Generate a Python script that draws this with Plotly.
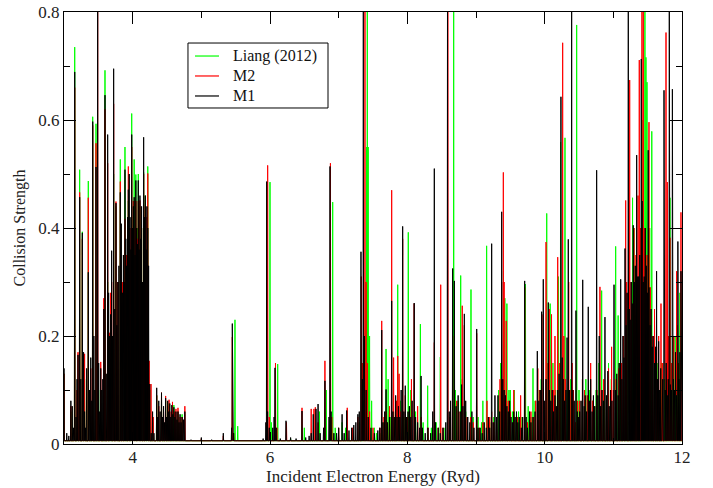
import plotly.graph_objects as go

# ---------------- data: resonance peaks (energy in Ryd, collision strength) -------------
m1_peaks_a = [(3.00,0.14),(3.04,0.02),(3.07,0.015),(3.10,0.08),(3.12,0.07),(3.14,0.03),(3.156,0.689),(3.175,0.05),(3.19,0.12),(3.204,0.165),(3.228,0.457),(3.245,0.12),(3.267,0.391),(3.285,0.17),(3.30,0.06),(3.315,0.03),(3.33,0.14),(3.354,0.318),(3.37,0.10),(3.39,0.16),(3.405,0.08),(3.418,0.597),(3.435,0.20),(3.45,0.10),(3.466,0.513),(3.49,0.82),(3.505,0.15),(3.52,0.06),(3.535,0.14),(3.55,0.10),(3.565,0.12),(3.58,0.25),(3.597,0.646),(3.615,0.13),(3.636,0.573),(3.65,0.28),(3.665,0.20),(3.68,0.24),(3.694,0.358),(3.708,0.20),(3.723,0.695),(3.74,0.25),(3.757,0.446),(3.77,0.22),(3.785,0.30),(3.80,0.33),(3.82,0.466),(3.835,0.408),(3.85,0.28),(3.865,0.35),(3.877,0.30),(3.888,0.508),(3.90,0.38),(3.912,0.33),(3.925,0.42),(3.937,0.471),(3.95,0.50),(3.962,0.42),(3.974,0.36),(3.986,0.573),(3.998,0.40),(4.01,0.44),(4.022,0.457),(4.034,0.35),(4.046,0.488),(4.058,0.40),(4.07,0.37),(4.082,0.488),(4.094,0.36),(4.106,0.46),(4.118,0.38),(4.13,0.44),(4.142,0.30),(4.16,0.568),(4.172,0.42),(4.184,0.46),(4.196,0.36),(4.208,0.44),(4.22,0.40),(4.232,0.33),(4.248,0.111),(4.27,0.02),(4.29,0.06),(4.31,0.02),(4.35,0.104),(4.365,0.05),(4.38,0.08),(4.40,0.06),(4.42,0.095),(4.435,0.05),(4.45,0.07),(4.465,0.04),(4.48,0.085),(4.495,0.05),(4.51,0.08),(4.525,0.06),(4.54,0.075),(4.555,0.05),(4.57,0.072),(4.585,0.055),(4.60,0.068),(4.615,0.05),(4.63,0.06),(4.645,0.045),(4.66,0.06),(4.675,0.04),(4.69,0.055),(4.705,0.04),(4.72,0.05),(4.74,0.045),(4.76,0.06)]
m1_peaks_b = [(4.85,0.008),(5.00,0.012),(5.15,0.008),(5.32,0.02),(5.44,0.03),(5.451,0.223),(5.47,0.02),(5.90,0.01),(5.94,0.04),(5.952,0.486),(5.965,0.06),(5.99,0.03),(6.04,0.03),(6.06,0.05),(6.073,0.141),(6.09,0.03),(6.15,0.01),(6.233,0.043),(6.30,0.012),(6.38,0.01),(6.466,0.061),(6.52,0.012),(6.57,0.015),(6.60,0.02),(6.63,0.055),(6.67,0.065),(6.70,0.074),(6.73,0.02),(6.78,0.03),(6.80,0.117),(6.86,0.05),(6.874,0.514),(6.89,0.06),(6.93,0.02),(6.97,0.02),(7.00,0.03),(7.05,0.055),(7.08,0.02),(7.117,0.062),(7.15,0.025),(7.19,0.03),(7.22,0.035),(7.25,0.04),(7.28,0.055),(7.30,0.06),(7.325,0.356),(7.345,0.12),(7.359,0.82),(7.375,0.2),(7.40,0.10),(7.43,0.05),(7.47,0.03),(7.52,0.02),(7.57,0.025)]
m1_peaks_c = [(7.60,0.03),(7.627,0.211),(7.645,0.04),(7.67,0.06),(7.69,0.101),(7.71,0.04),(7.74,0.05),(7.772,0.265),(7.79,0.06),(7.81,0.05),(7.83,0.09),(7.85,0.05),(7.87,0.07),(7.89,0.05),(7.91,0.10),(7.932,0.403),(7.95,0.06),(7.97,0.108),(7.99,0.05),(8.01,0.06),(8.03,0.07),(8.05,0.05),(8.07,0.08),(8.10,0.261),(8.12,0.05),(8.15,0.04),(8.18,0.03),(8.20,0.126),(8.22,0.03),(8.26,0.02),(8.30,0.03),(8.34,0.02),(8.37,0.06),(8.393,0.51),(8.41,0.04),(8.45,0.03),(8.48,0.02),(8.52,0.03),(8.56,0.04),(8.585,0.83),(8.61,0.06),(8.63,0.08),(8.66,0.325),(8.685,0.302),(8.71,0.07),(8.74,0.09),(8.77,0.06),(8.79,0.11),(8.81,0.07),(8.83,0.241),(8.85,0.08),(8.88,0.05),(8.91,0.04),(8.94,0.06),(8.97,0.03),(9.01,0.213),(9.03,0.03)]
m1_peaks_d = [(9.06,0.03),(9.09,0.02),(9.12,0.04),(9.15,0.03),(9.18,0.05),(9.20,0.03),(9.228,0.371),(9.25,0.04),(9.276,0.09),(9.30,0.05),(9.32,0.09),(9.345,0.06),(9.374,0.43),(9.39,0.12),(9.41,0.10),(9.43,0.09),(9.45,0.07),(9.47,0.06),(9.49,0.08),(9.51,0.05),(9.53,0.04),(9.55,0.06),(9.57,0.05),(9.59,0.06),(9.61,0.04),(9.63,0.05),(9.66,0.03),(9.68,0.05),(9.709,0.302),(9.73,0.05),(9.75,0.03),(9.78,0.06),(9.80,0.04),(9.83,0.05),(9.86,0.06),(9.893,0.172),(9.915,0.08),(9.935,0.10),(9.956,0.245),(9.98,0.305),(10.00,0.08),(10.02,0.12),(10.053,0.262),(10.07,0.10),(10.09,0.08),(10.11,0.10),(10.13,0.06),(10.15,0.09),(10.17,0.07),(10.19,0.10),(10.21,0.13),(10.237,0.643),(10.255,0.16),(10.27,0.12),(10.29,0.08),(10.31,0.10),(10.326,0.197),(10.344,0.379),(10.36,0.10),(10.393,0.83),(10.41,0.10),(10.43,0.08),(10.456,0.247),(10.475,0.06),(10.49,0.05)]
m1_peaks_e = [(10.51,0.06),(10.53,0.08),(10.554,0.304),(10.575,0.07),(10.59,0.09),(10.61,0.06),(10.635,0.254),(10.655,0.08),(10.67,0.12),(10.69,0.06),(10.71,0.09),(10.73,0.07),(10.757,0.507),(10.775,0.09),(10.795,0.20),(10.815,0.07),(10.835,0.10),(10.855,0.08),(10.878,0.235),(10.90,0.09),(10.92,0.135),(10.94,0.07),(10.96,0.10),(10.98,0.08),(11.01,0.295),(11.03,0.10),(11.05,0.13),(11.07,0.09),(11.085,0.15),(11.107,0.305),(11.125,0.12),(11.14,0.20),(11.155,0.16),(11.17,0.362),(11.185,0.22),(11.20,0.28),(11.218,0.83),(11.232,0.25),(11.245,0.23),(11.26,0.30),(11.275,0.26),(11.29,0.405),(11.305,0.30),(11.32,0.33),(11.34,0.535),(11.355,0.31),(11.37,0.31),(11.385,0.35),(11.407,0.713),(11.42,0.45),(11.435,0.30),(11.45,0.31),(11.465,0.40),(11.48,0.33),(11.495,0.28),(11.508,0.544),(11.52,0.29),(11.535,0.22),(11.55,0.25),(11.565,0.18),(11.58,0.20),(11.60,0.15),(11.615,0.18),(11.63,0.32),(11.645,0.12),(11.66,0.19),(11.675,0.10),(11.69,0.14),(11.71,0.09),(11.72,0.12),(11.738,0.655),(11.755,0.10),(11.77,0.15),(11.785,0.09),(11.80,0.12),(11.815,0.83),(11.83,0.11),(11.845,0.10),(11.86,0.657),(11.875,0.12),(11.89,0.10),(11.905,0.17),(11.92,0.09),(11.94,0.375),(11.955,0.12),(11.97,0.17),(11.985,0.32),(11.995,0.10)]

m2_peaks_a = [(3.00,0.13),(3.10,0.07),(3.156,0.66),(3.19,0.10),(3.204,0.17),(3.228,0.466),(3.267,0.38),(3.30,0.167),(3.354,0.456),(3.39,0.14),(3.418,0.59),(3.466,0.557),(3.49,0.85),(3.535,0.152),(3.58,0.27),(3.597,0.62),(3.636,0.52),(3.66,0.206),(3.68,0.28),(3.694,0.30),(3.723,0.63),(3.757,0.449),(3.785,0.30),(3.82,0.486),(3.85,0.30),(3.888,0.417),(3.912,0.35),(3.937,0.514),(3.962,0.40),(3.986,0.55),(4.01,0.45),(4.034,0.40),(4.046,0.45),(4.07,0.38),(4.082,0.45),(4.106,0.451),(4.13,0.40),(4.16,0.50),(4.184,0.44),(4.208,0.42),(4.22,0.501),(4.24,0.154),(4.267,0.111),(4.30,0.05),(4.35,0.09),(4.38,0.07),(4.42,0.095),(4.45,0.06),(4.48,0.089),(4.51,0.07),(4.53,0.082),(4.56,0.06),(4.58,0.078),(4.61,0.06),(4.63,0.065),(4.66,0.067),(4.69,0.05),(4.72,0.05),(4.76,0.07)]
m2_peaks_b = [(5.00,0.01),(5.32,0.015),(5.451,0.198),(5.47,0.02),(5.966,0.516),(5.99,0.05),(6.08,0.15),(6.10,0.03),(6.24,0.04),(6.466,0.067),(6.60,0.065),(6.64,0.065),(6.66,0.068),(6.70,0.04),(6.80,0.154),(6.88,0.52),(6.90,0.05),(7.00,0.03),(7.125,0.067),(7.20,0.03),(7.28,0.05),(7.33,0.31),(7.35,0.15),(7.383,0.85),(7.40,0.30),(7.42,0.15),(7.45,0.06),(7.50,0.03)]
m2_peaks_c = [(7.60,0.03),(7.627,0.228),(7.66,0.05),(7.69,0.06),(7.74,0.07),(7.772,0.47),(7.80,0.16),(7.84,0.08),(7.86,0.163),(7.88,0.13),(7.90,0.06),(7.932,0.38),(7.97,0.09),(8.00,0.05),(8.03,0.06),(8.06,0.12),(8.10,0.26),(8.15,0.07),(8.20,0.05),(8.30,0.03),(8.393,0.188),(8.45,0.03),(8.486,0.295),(8.52,0.03),(8.59,0.85),(8.62,0.05),(8.66,0.2),(8.72,0.08),(8.75,0.06),(8.80,0.256),(8.83,0.22),(8.87,0.05),(8.92,0.05),(8.96,0.04),(9.01,0.205)]
m2_peaks_d = [(9.05,0.03),(9.10,0.04),(9.16,0.08),(9.20,0.05),(9.228,0.06),(9.26,0.04),(9.30,0.05),(9.35,0.12),(9.374,0.30),(9.398,0.503),(9.41,0.30),(9.44,0.228),(9.47,0.08),(9.50,0.06),(9.55,0.10),(9.60,0.05),(9.65,0.09),(9.709,0.29),(9.75,0.04),(9.80,0.06),(9.84,0.05),(9.87,0.08),(9.90,0.14),(9.93,0.10),(9.96,0.24),(10.02,0.374),(10.05,0.15),(10.07,0.25),(10.10,0.24),(10.13,0.10),(10.15,0.20),(10.19,0.346),(10.22,0.15),(10.262,0.743),(10.28,0.20),(10.30,0.12),(10.35,0.30),(10.37,0.10),(10.40,0.15),(10.42,0.10),(10.45,0.04),(10.48,0.08)]
m2_peaks_e = [(10.51,0.08),(10.55,0.12),(10.58,0.10),(10.62,0.09),(10.67,0.15),(10.70,0.08),(10.72,0.07),(10.76,0.10),(10.805,0.291),(10.83,0.10),(10.86,0.12),(10.90,0.08),(10.93,0.14),(10.975,0.18),(11.00,0.10),(11.04,0.12),(11.08,0.14),(11.12,0.15),(11.15,0.20),(11.18,0.451),(11.194,0.30),(11.238,0.674),(11.26,0.30),(11.30,0.40),(11.33,0.35),(11.36,0.46),(11.378,0.711),(11.395,0.40),(11.417,0.85),(11.437,0.85),(11.46,0.40),(11.49,0.35),(11.519,0.596),(11.54,0.29),(11.57,0.20),(11.60,0.25),(11.63,0.18),(11.66,0.20),(11.694,0.26),(11.72,0.15),(11.767,0.762),(11.786,0.485),(11.80,0.20),(11.825,0.382),(11.85,0.15),(11.88,0.20),(11.922,0.32),(11.95,0.15),(11.985,0.429)]

liang_peaks_a = [(3.00,0.13),(3.10,0.06),(3.156,0.735),(3.20,0.10),(3.228,0.508),(3.267,0.393),(3.30,0.12),(3.354,0.487),(3.418,0.606),(3.466,0.593),(3.53,0.10),(3.597,0.692),(3.636,0.30),(3.68,0.20),(3.723,0.50),(3.757,0.44),(3.77,0.139),(3.82,0.527),(3.85,0.30),(3.888,0.55),(3.937,0.45),(3.986,0.612),(4.01,0.42),(4.022,0.527),(4.046,0.499),(4.07,0.40),(4.082,0.50),(4.106,0.44),(4.13,0.40),(4.16,0.503),(4.184,0.46),(4.22,0.514),(4.25,0.10),(4.30,0.04),(4.35,0.09),(4.42,0.085),(4.48,0.08),(4.53,0.075),(4.60,0.072),(4.66,0.06),(4.72,0.055)]
liang_peaks_b = [(5.00,0.008),(5.49,0.23),(5.53,0.033),(6.00,0.485),(6.02,0.04),(6.112,0.148),(6.30,0.01),(6.50,0.03),(6.72,0.06),(6.82,0.10),(6.913,0.448),(6.95,0.03),(7.05,0.04),(7.10,0.03),(7.20,0.02),(7.30,0.04),(7.36,0.08),(7.39,0.30),(7.405,0.55),(7.417,0.80),(7.43,0.55),(7.45,0.20),(7.48,0.08),(7.52,0.03),(7.55,0.02)]
liang_peaks_c = [(7.60,0.02),(7.65,0.04),(7.69,0.176),(7.72,0.12),(7.76,0.05),(7.80,0.06),(7.86,0.295),(7.90,0.08),(7.95,0.05),(8.014,0.392),(8.05,0.10),(8.12,0.06),(8.19,0.222),(8.23,0.04),(8.296,0.108),(8.35,0.03),(8.42,0.04),(8.48,0.161),(8.55,0.03),(8.62,0.05),(8.675,0.83),(8.70,0.10),(8.74,0.08),(8.777,0.312),(8.80,0.12),(8.85,0.06),(8.927,0.286),(8.96,0.05),(9.03,0.05)]
liang_peaks_d = [(9.08,0.04),(9.10,0.08),(9.155,0.367),(9.20,0.04),(9.26,0.05),(9.33,0.10),(9.36,0.15),(9.40,0.32),(9.42,0.27),(9.45,0.26),(9.48,0.10),(9.50,0.10),(9.53,0.06),(9.56,0.10),(9.60,0.05),(9.62,0.06),(9.67,0.05),(9.72,0.296),(9.76,0.07),(9.80,0.05),(9.83,0.14),(9.86,0.08),(9.90,0.10),(9.95,0.12),(10.03,0.427),(10.06,0.12),(10.08,0.26),(10.12,0.15),(10.16,0.10),(10.20,0.31),(10.232,0.559),(10.26,0.15),(10.296,0.567),(10.33,0.10),(10.38,0.12),(10.42,0.08),(10.466,0.776),(10.50,0.10)]
liang_peaks_e = [(10.55,0.08),(10.60,0.12),(10.65,0.10),(10.70,0.08),(10.75,0.10),(10.79,0.15),(10.83,0.284),(10.87,0.10),(10.93,0.15),(10.97,0.12),(11.034,0.366),(11.07,0.238),(11.10,0.15),(11.15,0.20),(11.20,0.25),(11.28,0.456),(11.30,0.40),(11.35,0.30),(11.40,0.40),(11.43,0.60),(11.46,0.85),(11.475,0.716),(11.49,0.67),(11.53,0.40),(11.56,0.579),(11.60,0.20),(11.65,0.15),(11.70,0.15),(11.75,0.12),(11.825,0.456),(11.87,0.20),(11.90,0.20),(11.93,0.22),(11.97,0.28)]

background_level = 0.006   # non-resonant collision strength
x_ticks = [4, 6, 8, 10, 12]
y_ticks = [0, 0.2, 0.4, 0.6, 0.8]
x_tick_labels = ["4", "6", "8", "10", "12"]
y_tick_labels = ["0", "0.2", "0.4", "0.6", "0.8"]
series_names = ["Liang (2012)", "M2", "M1"]
series_colors = ["#00ff00", "#ff0000", "#000000"]

series_peaks = [
    liang_peaks_a + liang_peaks_b + liang_peaks_c + liang_peaks_d + liang_peaks_e,
    m2_peaks_a + m2_peaks_b + m2_peaks_c + m2_peaks_d + m2_peaks_e,
    m1_peaks_a + m1_peaks_b + m1_peaks_c + m1_peaks_d + m1_peaks_e,
]

HALF_WIDTH = 0.0045


def spike_line(peaks):
    xs, ys = [3.0], [background_level]
    for e, h in sorted(peaks):
        xs += [e - HALF_WIDTH, e, e + HALF_WIDTH]
        ys += [background_level, h, background_level]
    xs.append(12.0)
    ys.append(background_level)
    return xs, ys


FONT = "Times New Roman"
fig = go.Figure()
for name, color, peaks in zip(series_names, series_colors, series_peaks):
    xs, ys = spike_line(peaks)
    fig.add_trace(go.Scatter(x=xs, y=ys, mode="lines", name=name,
                             line=dict(color=color, width=1), showlegend=False))

# legend box drawn in paper coordinates (compact GRACE-style legend)
LEG_X0, LEG_X1, LEG_Y0, LEG_Y1 = 0.2006, 0.4272, 0.7778, 0.9282
LEG_ROWS = [0.8981, 0.8519, 0.8056]
shapes = [dict(type="rect", xref="paper", yref="paper", x0=LEG_X0, x1=LEG_X1, y0=LEG_Y0, y1=LEG_Y1,
               line=dict(color="black", width=1), fillcolor="white", layer="above")]
annotations = []
for name, color, yr in zip(series_names, series_colors, LEG_ROWS):
    shapes.append(dict(type="line", xref="paper", yref="paper", x0=0.212, x1=0.2508, y0=yr, y1=yr,
                       line=dict(color=color, width=1.2), layer="above"))
    annotations.append(dict(xref="paper", yref="paper", x=0.2718, y=yr, text=name, showarrow=False,
                            xanchor="left", yanchor="middle", borderpad=0,
                            font=dict(family=FONT, size=16, color="#111")))

axis_common = dict(showline=True, linecolor="black", linewidth=1.3, mirror="allticks",
                   ticks="inside", ticklen=12, tickwidth=1.3, tickcolor="black",
                   showgrid=False, zeroline=False, automargin=False,
                   tickfont=dict(family=FONT, size=17, color="#222"))
fig.update_layout(
    width=713, height=488,
    margin=dict(l=64, r=31, t=12, b=44, autoexpand=False),
    paper_bgcolor="white", plot_bgcolor="white",
    font=dict(family=FONT, color="#222"),
    xaxis=dict(range=[3, 12], tickvals=x_ticks, ticktext=x_tick_labels, ticklabelstandoff=-3,
               minor=dict(dtick=1, ticks="inside", ticklen=6, tickcolor="black", tickwidth=1),
               title=dict(text="Incident Electron Energy (Ryd)", font=dict(family=FONT, size=17), standoff=0),
               **axis_common),
    yaxis=dict(range=[0, 0.8], tickvals=y_ticks, ticktext=y_tick_labels,
               minor=dict(dtick=0.1, ticks="inside", ticklen=6, tickcolor="black", tickwidth=1),
               title=dict(text="Collision Strength", font=dict(family=FONT, size=16), standoff=8),
               **axis_common),
    shapes=shapes,
    annotations=annotations,
    showlegend=False,
)
fig.write_html("out.html")
